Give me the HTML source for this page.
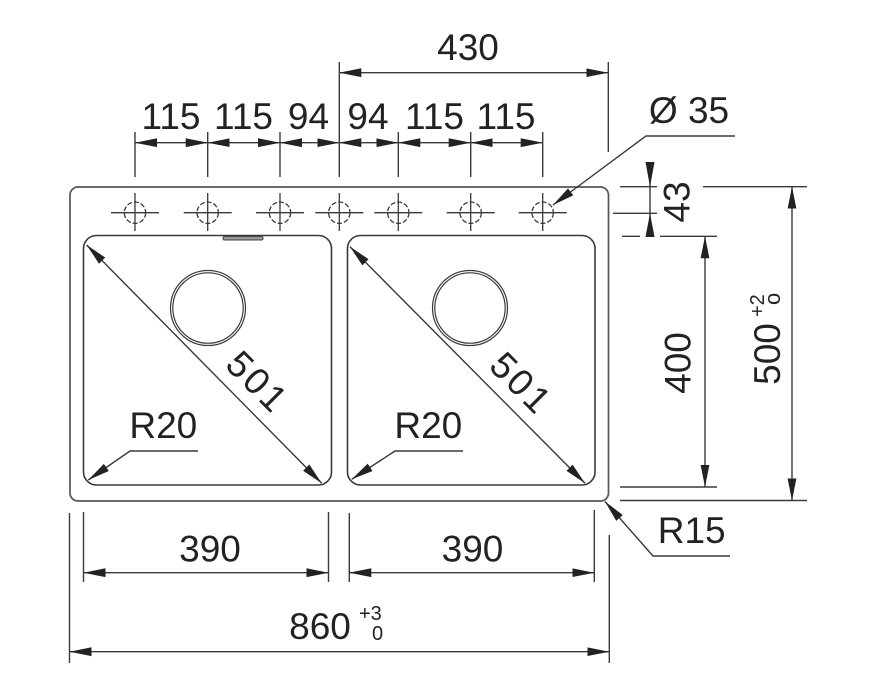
<!DOCTYPE html>
<html><head><meta charset="utf-8"><style>
html,body{margin:0;padding:0;background:#fff;}
svg{display:block;}
text{font-family:"Liberation Sans",Arial,sans-serif;fill:#222;}
</style></head><body>
<svg width="869" height="681" viewBox="0 0 869 681" xmlns="http://www.w3.org/2000/svg">
<defs>
<marker id="a" viewBox="0 0 22 10" refX="22" refY="5" markerWidth="22" markerHeight="10" markerUnits="userSpaceOnUse" orient="auto-start-reverse">
<path d="M0,0.6 L22,5 L0,9.4 z" fill="#222"/>
</marker>
</defs>
<g fill="none" stroke="#3a3a3a" stroke-width="1.4">
<!-- outer rim -->
<rect x="70" y="187" width="538.5" height="314" rx="8" stroke="#555" stroke-width="1.7"/>
<!-- bowls -->
<rect x="83.5" y="235.5" width="248" height="249.5" rx="13" stroke-width="1.6"/>
<rect x="347.5" y="235.5" width="247.5" height="249.5" rx="13" stroke-width="1.6"/>
<!-- drains -->
<circle cx="208" cy="308" r="37.5" stroke-width="1.2"/>
<circle cx="208" cy="308" r="35.2" stroke-width="1.2"/>
<circle cx="470" cy="308" r="37.5" stroke-width="1.2"/>
<circle cx="470" cy="308" r="35.2" stroke-width="1.2"/>
<!-- holes -->
<g stroke-width="1.3">
<circle cx="135" cy="212.7" r="10.7" stroke-dasharray="5 2"/>
<circle cx="207.7" cy="212.7" r="10.7" stroke-dasharray="5 2"/>
<circle cx="280" cy="212.7" r="10.7" stroke-dasharray="5 2"/>
<circle cx="339.3" cy="212.7" r="10.7" stroke-dasharray="5 2"/>
<circle cx="398.3" cy="212.7" r="10.7" stroke-dasharray="5 2"/>
<circle cx="470.7" cy="212.7" r="10.7" stroke-dasharray="5 2"/>
<circle cx="542.7" cy="212.7" r="10.7" stroke-dasharray="5 2"/>
<path d="M111,212.7h48M135,193v38 M183.7,212.7h48M207.7,193v38 M256,212.7h48M280,193v38 M315.3,212.7h48M339.3,193v38 M374.3,212.7h48M398.3,193v38 M446.7,212.7h48M470.7,193v38 M518.7,212.7h48M542.7,193v38"/>
</g>
<!-- extension lines top -->
<path d="M135,132V177 M207.7,132V177 M280,132V177 M339.3,62V177 M398.3,132V177 M470.7,132V177 M542.7,132V177 M608.3,62V152"/>
<!-- small dims -->
<line x1="135" y1="142.7" x2="207.7" y2="142.7" marker-start="url(#a)" marker-end="url(#a)"/>
<line x1="207.7" y1="142.7" x2="280" y2="142.7" marker-start="url(#a)" marker-end="url(#a)"/>
<line x1="280" y1="142.7" x2="339.3" y2="142.7" marker-start="url(#a)" marker-end="url(#a)"/>
<line x1="339.3" y1="142.7" x2="398.3" y2="142.7" marker-start="url(#a)" marker-end="url(#a)"/>
<line x1="398.3" y1="142.7" x2="470.7" y2="142.7" marker-start="url(#a)" marker-end="url(#a)"/>
<line x1="470.7" y1="142.7" x2="542.7" y2="142.7" marker-start="url(#a)" marker-end="url(#a)"/>
<!-- 430 -->
<line x1="339.3" y1="72.7" x2="608.3" y2="72.7" marker-start="url(#a)" marker-end="url(#a)"/>
<!-- Ø35 leader -->
<polyline points="735,136 646,136 553,205" marker-end="url(#a)"/>
<!-- 43 -->
<line x1="650" y1="162" x2="650" y2="237"/>
<path d="M620,186.7H657 M613,213.3H657 M622,236.3H640 M660,236.3H717"/>
<!-- 500 / 400 extension -->
<path d="M703,186.7H807 M620,500.5H807 M620,487H717"/>
<line x1="705" y1="236.3" x2="705" y2="487" marker-start="url(#a)" marker-end="url(#a)"/>
<line x1="792" y1="186.7" x2="792" y2="500.5" marker-start="url(#a)" marker-end="url(#a)"/>
<!-- R15 -->
<polyline points="730,556 653,556 605,501.5" marker-end="url(#a)"/>
<!-- bottom extension lines -->
<path d="M69.5,513V663 M83.5,512V582 M328.5,512V582 M349.3,513V582 M594.3,510V582 M609.3,535V663"/>
<line x1="83.5" y1="572.7" x2="328.5" y2="572.7" marker-start="url(#a)" marker-end="url(#a)"/>
<line x1="349.3" y1="572.7" x2="594.3" y2="572.7" marker-start="url(#a)" marker-end="url(#a)"/>
<line x1="69.5" y1="651.7" x2="609.3" y2="651.7" marker-start="url(#a)" marker-end="url(#a)"/>
<!-- diagonals -->
<line x1="86.7" y1="245" x2="321.7" y2="483.3" marker-start="url(#a)" marker-end="url(#a)"/>
<line x1="350" y1="246.7" x2="585" y2="483.3" marker-start="url(#a)" marker-end="url(#a)"/>
<!-- R20 leaders -->
<polyline points="198,451 130,451 88.3,480" marker-end="url(#a)"/>
<polyline points="463,451 395,451 351.7,479.3" marker-end="url(#a)"/>
</g>
<!-- 43 arrows -->
<polygon points="650,186.7 645.5,162 654.5,162" fill="#222"/>
<polygon points="650,213.3 645.5,237 654.5,237" fill="#222"/>
<!-- overflow slot -->
<rect x="223" y="236.5" width="40" height="3.5" rx="1.5" fill="#999" stroke="#444" stroke-width="1"/>

<g font-size="37" text-anchor="middle">
<text x="468" y="60">430</text>
<text x="171" y="129">115</text>
<text x="243.5" y="129">115</text>
<text x="308.5" y="129">94</text>
<text x="368" y="129">94</text>
<text x="434.5" y="129">115</text>
<text x="506" y="129">115</text>
<text x="689" y="123">Ø 35</text>
<text x="163.3" y="438">R20</text>
<text x="428.3" y="438">R20</text>
<text x="210" y="561.5">390</text>
<text x="472.5" y="561.5">390</text>
<text x="320" y="639">860</text>
<text x="691.7" y="543">R15</text>
<text transform="translate(258,382) rotate(45)" y="13" letter-spacing="3">501</text>
<text transform="translate(521.7,383.3) rotate(45)" y="13" letter-spacing="3">501</text>
<text transform="translate(676,202) rotate(-90)" y="13.5">43</text>
<text transform="translate(677,363) rotate(-90)" y="13.5">400</text>
<text transform="translate(766,354) rotate(-90)" y="14">500</text>
</g>
<text x="359" y="620" font-size="20">+3</text>
<text x="372" y="640" font-size="20">0</text>
<g transform="translate(766,354) rotate(-90)">
<text x="37" y="-2" font-size="20">+2</text>
<text x="49" y="14" font-size="22">o</text>
</g>
</svg>
</body></html>
